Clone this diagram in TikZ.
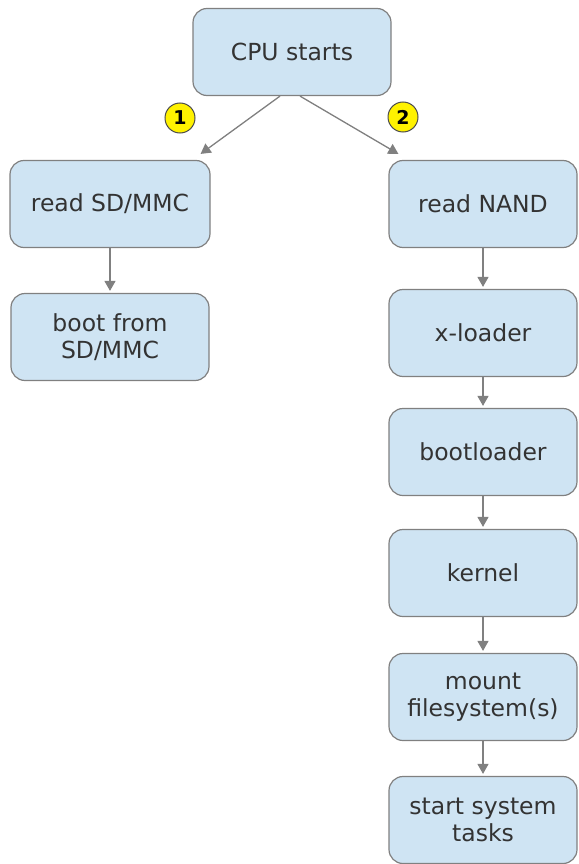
\documentclass[tikz,border=0pt]{standalone}
\usepackage{fontspec}
\setmainfont{DejaVu Sans}
\usetikzlibrary{positioning,arrows.meta}
\definecolor{boxblue}{HTML}{CFE4F3}
\definecolor{edgegray}{HTML}{808080}
\definecolor{txtgray}{HTML}{333333}
\tikzset{box/.style={rectangle,rounded corners=14pt,draw=edgegray,line width=1.2pt,fill=boxblue,
            text=txtgray,align=center,minimum height=87pt,font=\fontsize{23.5}{27}\selectfont},
            badge/.style={circle,draw=black!70,line width=1pt,fill=yellow,minimum size=30pt,inner sep=0pt,
            font=\fontsize{19}{19}\selectfont\bfseries},
            arr/.style={draw=edgegray,line width=1.3pt,-{Triangle[width=11pt,length=10pt]},fill=edgegray}}

\begin{document}
\begin{tikzpicture}[x=1pt,y=-1pt]
\useasboundingbox (0,0) rectangle (578,864);
\node[box,minimum width=198pt] at (292,52)(cpu){CPU starts};
\node[box,minimum width=200pt] at (110,204)(sd){read SD/MMC};
\node[box,minimum width=198pt] at (110,337)(bootsd){boot from\\SD/MMC};
\node[box,minimum width=188pt] at (483,204)(nand){read NAND};
\node[box,minimum width=188pt] at (483,333)(xload){x-loader};
\node[box,minimum width=188pt] at (483,452)(bootl){bootloader};
\node[box,minimum width=188pt] at (483,573)(kern){kernel};
\node[box,minimum width=188pt] at (483,697)(mount){mount\\filesystem(s)};
\node[box,minimum width=188pt] at (483,820)(tasks){start system\\tasks};
\node[badge] at (180,118)(one){1};
\node[badge] at (403,117)(two){2};
\draw[arr] ([xshift=-12pt]cpu.south) -- ([xshift=-10pt,yshift=6pt]sd.north east);
\draw[arr] ([xshift=8pt]cpu.south) -- ([xshift=10pt,yshift=6pt]nand.north west);
\draw[arr,shorten >=2pt] (sd) -- (bootsd);
\draw[arr,shorten >=2pt] (nand) -- (xload);
\draw[arr,shorten >=2pt] (xload) -- (bootl);
\draw[arr,shorten >=2pt] (bootl) -- (kern);
\draw[arr,shorten >=2pt] (kern) -- (mount);
\draw[arr,shorten >=2pt] (mount) -- (tasks);
\end{tikzpicture}
\end{document}
